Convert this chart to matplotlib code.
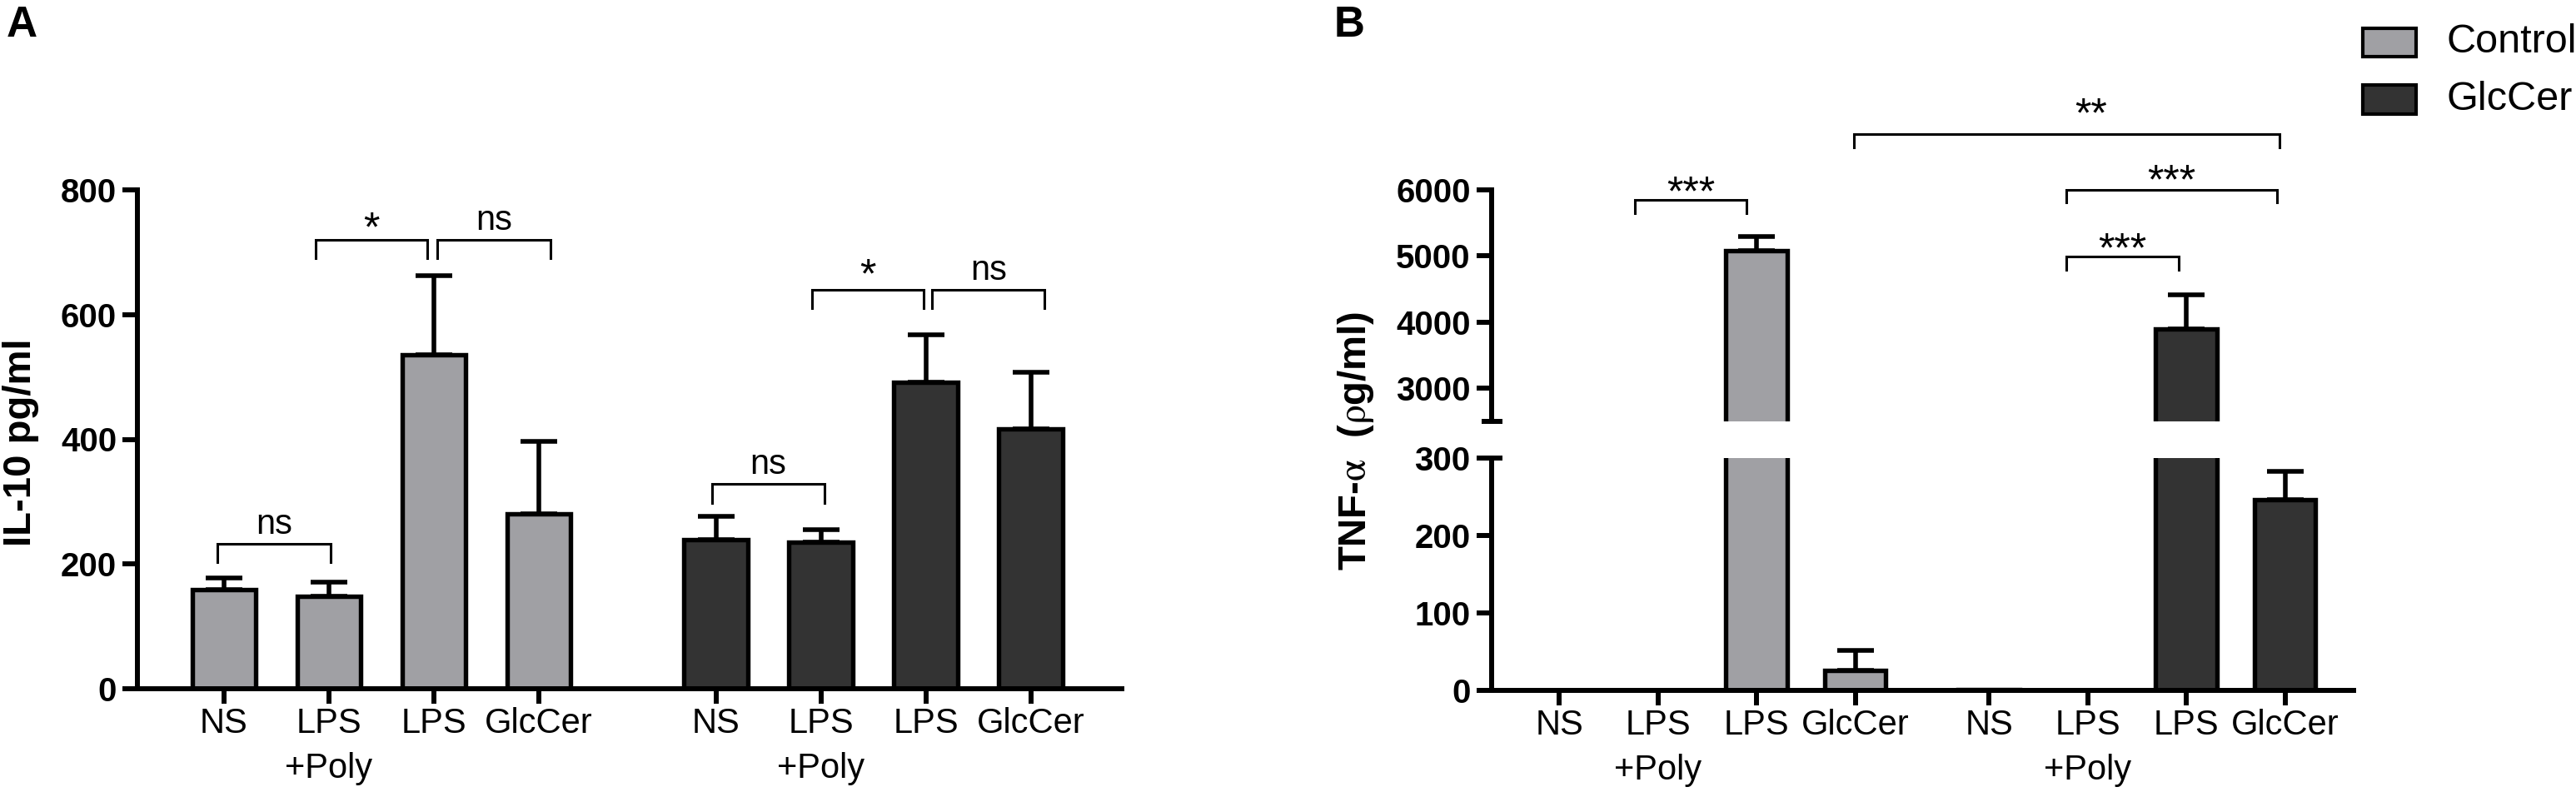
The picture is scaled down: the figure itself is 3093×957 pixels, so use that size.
import numpy as np
import matplotlib
matplotlib.use('Agg')
import matplotlib.pyplot as plt
from matplotlib.patches import Rectangle

plt.rcParams['font.family'] = ['Liberation Sans', 'DejaVu Sans']
plt.rcParams['mathtext.fontset'] = 'stix'

# ---------------- data ----------------
categories = ['NS', 'LPS\n+Poly', 'LPS', 'GlcCer']
series = ['Control', 'GlcCer']
colors = ['#a0a0a4', '#333333']

il10_control = [159, 148, 535, 280]
il10_control_sem = [19, 23, 128, 117]
il10_glccer = [239, 235, 491, 417]
il10_glccer_sem = [37, 20, 76, 90]

tnf_control = [0, 0, 5080, 26]
tnf_control_sem = [0, 0, 214, 26]
tnf_glccer = [1, 0, 3900, 246]
tnf_glccer_sem = [0, 0, 511, 37]

# significance brackets: (x_start, x_end, height, label)
brackets_a = [(-0.06, 1.02, 233, 'ns'), (0.87, 1.94, 720, '*'), (2.03, 3.11, 720, 'ns'),
              (4.65, 5.72, 328, 'ns'), (5.60, 6.67, 640, '*'), (6.75, 7.82, 640, 'ns')]
brackets_b = [(0.77, 1.90, 5849, '***'), (2.99, 7.30, 6845, '**'),
              (5.14, 7.27, 6005, '***'), (5.14, 6.28, 4991, '***')]

# ---------------- figure ----------------
W, H = 3093, 957
fig = plt.figure(figsize=(W / 100, H / 100), dpi=100)

def fx(px):
    return px / W

def fy(py):
    return 1 - py / H

LW_SPINE = 4.3
LW_BAR = 3.9
PX = 0.72  # points per pixel


def style_axis(ax, hide=()):
    for s in ['top', 'right'] + list(hide):
        ax.spines[s].set_visible(False)
    for s in ['left', 'bottom']:
        ax.spines[s].set_linewidth(LW_SPINE)
    ax.tick_params(axis='both', direction='out', length=13, width=LW_SPINE)
    ax.tick_params(axis='y', labelsize=29, pad=5)
    ax.tick_params(axis='x', labelsize=30, pad=3)


def draw_bars(ax, pos, vals, sems, color, width):
    ax.bar(pos, vals, width=width, color=color, edgecolor='black',
           linewidth=LW_BAR, zorder=2)
    vals = np.asarray(vals, float)
    sems = np.asarray(sems, float)
    m = sems > 0
    ax.errorbar(pos[m], vals[m], yerr=[np.zeros(m.sum()), sems[m]], fmt='none',
                ecolor='black', elinewidth=4, capsize=16, capthick=4, zorder=3)


def draw_bracket(ax, x0, x1, y, leg, label, dy_px, tx=None):
    ax.plot([x0, x0, x1, x1], [y - leg, y, y, y - leg], color='black', lw=2.2,
            clip_on=False, solid_joinstyle='miter', zorder=4)
    if tx is None:
        tx = (x0 + x1) / 2
    fs = 30 if label == 'ns' else 36
    ax.annotate(label, (tx, y), xytext=(0, dy_px * PX), textcoords='offset points',
                ha='center', va='baseline', fontsize=fs, annotation_clip=False)


# ---------------- panel A ----------------
posA = np.r_[np.arange(4), np.arange(4) + 4.69]
axA = fig.add_axes([fx(165), fy(827), fx(1347 - 165), (827 - 228) / H])
draw_bars(axA, posA[:4], il10_control, il10_control_sem, colors[0], 0.61)
draw_bars(axA, posA[4:], il10_glccer, il10_glccer_sem, colors[1], 0.61)
axA.set_xlim(-0.825, 8.556)
axA.set_ylim(0, 800)
axA.set_yticks([0, 200, 400, 600, 800])
axA.set_xticks(posA)
axA.set_xticklabels(categories * 2)
style_axis(axA)
for lbl in axA.get_yticklabels():
    lbl.set_fontweight('bold')
for lbl in axA.get_xticklabels():
    lbl.set_linespacing(1.45)

dyA = [12, -1, 12, 12, 2, 12]
for (x0, x1, y, lab), d in zip(brackets_a, dyA):
    draw_bracket(axA, x0, x1, y, 30, lab, d)

fig.text(fx(25), fy(531), 'IL-10 pg/ml', rotation=90, ha='center', va='center',
         fontsize=34, fontweight='bold')
fig.text(fx(8), fy(6), 'A', ha='left', va='top', fontsize=37, fontweight='bold')

# ---------------- panel B ----------------
posB = np.r_[np.arange(4), np.arange(4) + 4.355]
xlB = (-0.688, 8.05)
axBu = fig.add_axes([fx(1790.5), fy(506), fx(2826 - 1790.5), (506 - 228) / H])
axBl = fig.add_axes([fx(1790.5), fy(829), fx(2826 - 1790.5), (829 - 550) / H])

for ax in (axBu, axBl):
    draw_bars(ax, posB[:4], tnf_control, tnf_control_sem, colors[0], 0.62)
    draw_bars(ax, posB[4:], tnf_glccer, tnf_glccer_sem, colors[1], 0.62)
    ax.set_xlim(*xlB)

axBu.set_ylim(2500, 6000)
axBu.set_yticks([3000, 4000, 5000, 6000])
axBu.set_xticks([])
style_axis(axBu, hide=('bottom',))

axBl.set_ylim(0, 300)
axBl.set_yticks([0, 100, 200, 300])
axBl.set_xticks(posB)
axBl.set_xticklabels(categories * 2)
style_axis(axBl)
for ax in (axBu, axBl):
    for lbl in ax.get_yticklabels():
        lbl.set_fontweight('bold')
for lbl in axBl.get_xticklabels():
    lbl.set_linespacing(1.45)

# axis break marks
axBu.plot([xlB[0]], [2500], marker='_', markersize=18, mew=LW_SPINE, color='black',
          clip_on=False, zorder=5)
axBl.plot([xlB[0]], [300], marker='_', markersize=18, mew=LW_SPINE, color='black',
          clip_on=False, zorder=5)

dyB = [-6.5, 8, -5, -6]
txB = [None, 5.39, None, None]
for (x0, x1, y, lab), d, tx in zip(brackets_b, dyB, txB):
    draw_bracket(axBu, x0, x1, y, 200, lab, d, tx)

fig.text(fx(1628), fy(529), r'TNF-$\mathrm{\alpha}$  ($\mathrm{\rho}$g/ml)', rotation=90,
         ha='center', va='center', fontsize=34, fontweight='bold')
fig.text(fx(1602), fy(6), 'B', ha='left', va='top', fontsize=37, fontweight='bold')

# legend
box_y = [(33.6, 67.8), (102, 136.6)]
for name, col, (y0, y1) in zip(series, colors, box_y):
    fig.add_artist(Rectangle((fx(2837), fy(y1)), fx(2901 - 2837), (y1 - y0) / H,
                             transform=fig.transFigure, facecolor=col,
                             edgecolor='black', linewidth=3))
    fig.text(fx(2938), fy((y0 + y1) / 2), name, ha='left', va='center', fontsize=35)

fig.savefig('out.png', dpi=100)
